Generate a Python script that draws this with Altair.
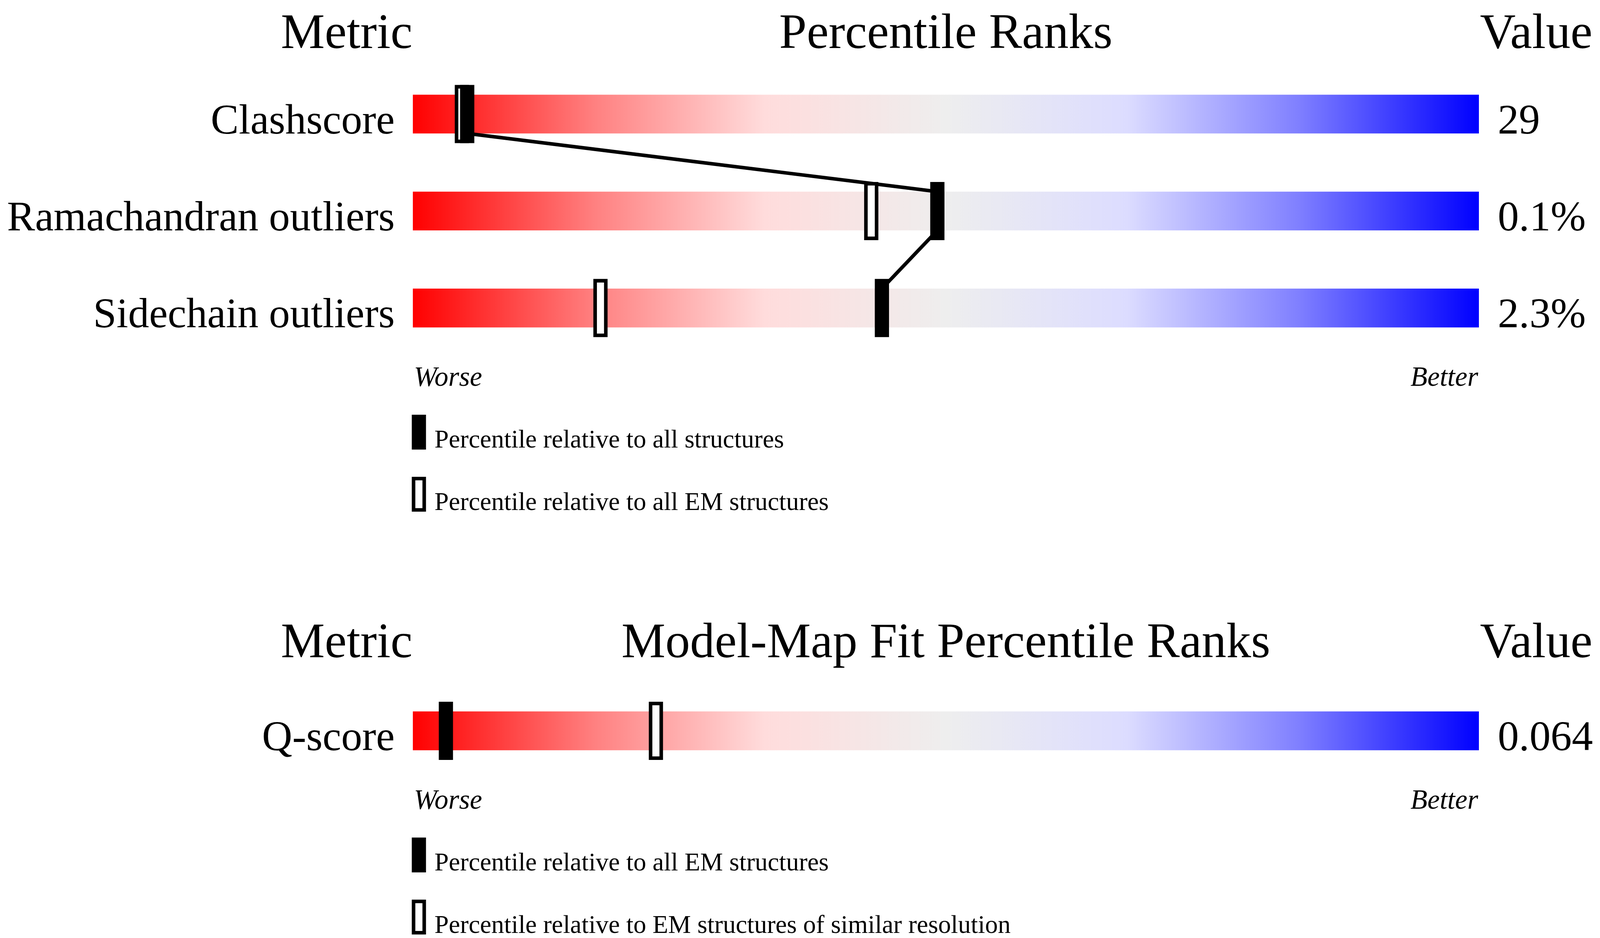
import altair as alt
import pandas as pd

# ---------------- data ----------------
metrics_top = ["Clashscore", "Ramachandran outliers", "Sidechain outliers"]
values_top = ["29", "0.1%", "2.3%"]
pct_all_top = [5.1, 49.2, 44.0]      # filled marker: relative to all structures
pct_em_top = [4.6, 43.0, 17.6]       # open marker: relative to all EM structures
legend_top = ["Percentile relative to all structures",
              "Percentile relative to all EM structures"]
header_top = ["Metric", "Percentile Ranks", "Value"]

metrics_bot = ["Q-score"]
values_bot = ["0.064"]
pct_all_bot = [3.1]                  # filled marker: relative to all EM structures
pct_em_bot = [22.8]                  # open marker: EM structures of similar resolution
legend_bot = ["Percentile relative to all EM structures",
              "Percentile relative to EM structures of similar resolution"]
header_bot = ["Metric", "Model-Map Fit Percentile Ranks", "Value"]

scale_ends = ["Worse", "Better"]

# ---------------- layout (reference pixel units) ----------------
REF_W, REF_H = 4485, 2402
H = 2386
BAR_L, BAR_R = 1153, 4153
PX_PER_PCT = (BAR_R - BAR_L) / 100.0
ROW_STEP = 250
PANELS = [dict(header=116, row0=286), dict(header=1686, row0=1876)]
FONT = "Liberation Serif"


def P(xref):
    """reference pixel -> percentile units of the bar scale"""
    return (xref - BAR_L) / PX_PER_PCT


def fs(v):
    return alt.ExprRef(expr=f"width/{REF_W}*{v}")


panel_data = [
    (metrics_top, values_top, pct_all_top, pct_em_top, legend_top, header_top),
    (metrics_bot, values_bot, pct_all_bot, pct_em_bot, legend_bot, header_bot),
]

rows, links, heads, ends, legs = [], [], [], [], []
for p, (mets, vals, pa, pe, leg, hdr) in enumerate(panel_data):
    lay = PANELS[p]
    ycs = []
    for i, (m, v, a, e) in enumerate(zip(mets, vals, pa, pe)):
        yc = lay["row0"] + i * ROW_STEP
        ycs.append(yc)
        rows.append(dict(metric=m, value=v, pall=a, pem=e, yc=yc,
                         ytop=yc - 50, ybot=yc + 50,
                         mtop=yc - 75, mbot=yc + 75,
                         otop=yc - 70.4, obot=yc + 70.4,
                         bx0=0, bx1=100, labx=P(1102), valx=P(4206)))
    for i in range(len(mets) - 1):
        links.append(dict(xa=pa[i], ya=ycs[i] + 50, xb=pa[i + 1], yb=ycs[i + 1] - 50))
    for t, xr, al in zip(hdr, [1152, (BAR_L + BAR_R) / 2, 4156], ["right", "center", "left"]):
        heads.append(dict(t=t, x=P(xr), al=al, y=lay["header"]))
    wb = ycs[-1] + 201
    ends.append(dict(t=scale_ends[0], x=P(1156), al="left", y=wb))
    ends.append(dict(t=scale_ends[1], x=P(4151), al="right", y=wb))
    for k, t in enumerate(leg):
        top = wb + 74 + k * 160
        legs.append(dict(t=t, kind=["filled", "open"][k], tx=P(1214),
                         ytext=wb + 159 + k * 161,
                         ix0=P(1150), ix1=P(1190), iy0=top, iy1=top + 90,
                         ox0=P(1155), ox1=P(1185), oy0=top + 4.6, oy1=top + 85.4))

rows_df = pd.DataFrame(rows)
links_df = pd.DataFrame(links)
heads_df = pd.DataFrame(heads)
ends_df = pd.DataFrame(ends)
legs_df = pd.DataFrame(legs)

xs = alt.Scale(domain=[P(0), P(REF_W)], nice=False, zero=False)
ys = alt.Scale(domain=[0, REF_H], reverse=True, nice=False, zero=False)


def X(f):
    return alt.X(f"{f}:Q", scale=xs, axis=None)


def Y(f):
    return alt.Y(f"{f}:Q", scale=ys, axis=None)


GRAD = alt.LinearGradient(
    gradient="linear", x1=0, x2=1, y1=0, y2=0,
    stops=[
        alt.GradientStop(offset=0.0, color="#ff0000"),
        alt.GradientStop(offset=0.17, color="#ff8080"),
        alt.GradientStop(offset=0.33, color="#ffdcdc"),
        alt.GradientStop(offset=0.5, color="#eeeeee"),
        alt.GradientStop(offset=0.67, color="#dcdcff"),
        alt.GradientStop(offset=0.83, color="#8080ff"),
        alt.GradientStop(offset=1.0, color="#0000ff"),
    ],
)

bars = alt.Chart(rows_df).mark_rect(fill=GRAD).encode(
    x=X("bx0"), x2="bx1:Q", y=Y("ytop"), y2="ybot:Q")

link_rules = alt.Chart(links_df).mark_rule(color="black", strokeWidth=fs(10)).encode(
    x=X("xa"), x2="xb:Q", y=Y("ya"), y2="yb:Q")

open_marks = alt.Chart(rows_df).transform_calculate(
    xa="datum.pem - 0.5", xb="datum.pem + 0.5"
).mark_rect(fill="white", stroke="black", strokeWidth=fs(10)).encode(
    x=X("xa"), x2="xb:Q", y=Y("otop"), y2="obot:Q")

filled_marks = alt.Chart(rows_df).transform_calculate(
    xa=f"datum.pall - {20 / PX_PER_PCT}", xb=f"datum.pall + {20 / PX_PER_PCT}"
).mark_rect(fill="black").encode(
    x=X("xa"), x2="xb:Q", y=Y("mtop"), y2="mbot:Q")


def text_layer(df, align, size, style="normal", xf="x", yf="y", tf="t"):
    return alt.Chart(df).mark_text(
        align=align, baseline="alphabetic", font=FONT, fontSize=fs(size),
        fontStyle=style, color="black").encode(
        x=X(xf), y=Y(yf), text=f"{tf}:N")


labels = text_layer(rows_df, "right", 118, xf="labx", yf="ybot", tf="metric")
values = text_layer(rows_df, "left", 119, xf="valx", yf="ybot", tf="value")

head_layers = [text_layer(heads_df[heads_df.al == al], al, 139)
               for al in ["right", "center", "left"]]
end_layers = [
    text_layer(ends_df[ends_df.al == "left"], "left", 78, style="italic"),
    text_layer(ends_df[ends_df.al == "right"], "right", 78, style="italic"),
]

leg_filled = alt.Chart(legs_df[legs_df.kind == "filled"]).mark_rect(fill="black").encode(
    x=X("ix0"), x2="ix1:Q", y=Y("iy0"), y2="iy1:Q")
leg_open = alt.Chart(legs_df[legs_df.kind == "open"]).mark_rect(
    fill="white", stroke="black", strokeWidth=fs(10)).encode(
    x=X("ox0"), x2="ox1:Q", y=Y("oy0"), y2="oy1:Q")
leg_text = text_layer(legs_df, "left", 72, xf="tx", yf="ytext")

chart = alt.layer(
    bars, link_rules, open_marks, filled_marks, labels, values,
    *head_layers, *end_layers, leg_filled, leg_open, leg_text,
).properties(
    width="container", height=H, padding=0,
    autosize=alt.AutoSizeParams(type="fit-x", contains="padding"),
    background="white",
).configure_view(stroke=None)

chart.save("out.html", embed_options={"renderer": "svg", "actions": False})
